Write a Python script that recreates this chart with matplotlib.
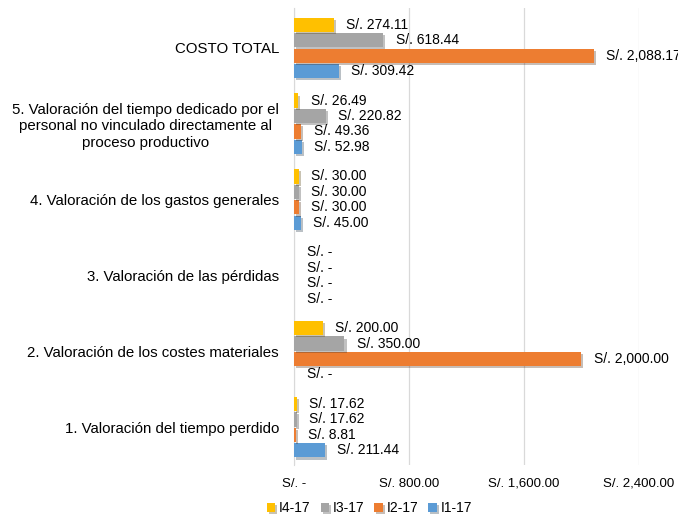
import matplotlib
matplotlib.use("Agg")
import matplotlib.pyplot as plt
import matplotlib.patheffects as pe
import numpy as np

plt.rcParams['font.family'] = ['Liberation Sans', 'DejaVu Sans']

categories = [
    "1. Valoración del tiempo perdido",
    "2. Valoración de los costes materiales",
    "3. Valoración de las pérdidas",
    "4. Valoración de los gastos generales",
    "5. Valoración del tiempo dedicado por el\npersonal no vinculado directamente al\nproceso productivo",
    "COSTO TOTAL",
]
series_names = ["I1-17", "I2-17", "I3-17", "I4-17"]
I1_17 = [211.44, 0, 0, 45.00, 52.98, 309.42]
I2_17 = [8.81, 2000.00, 0, 30.00, 49.36, 2088.17]
I3_17 = [17.62, 350.00, 0, 30.00, 220.82, 618.44]
I4_17 = [17.62, 200.00, 0, 30.00, 26.49, 274.11]
series = [I1_17, I2_17, I3_17, I4_17]
colors = ["#5B9BD5", "#ED7D31", "#A5A5A5", "#FFC000"]
xticks = [0, 800, 1600, 2400]
xtick_labels = ["S/. -", "S/. 800.00", "S/. 1,600.00", "S/. 2,400.00"]

def fmt(v):
    return "S/. -" if v == 0 else f"S/. {v:,.2f}"

fig = plt.figure(figsize=(6.78, 5.15), dpi=100)
ax = fig.add_axes([0.434, 0.097, 0.508, 0.888])

y = np.arange(len(categories))
h = 0.204
offsets = [-1.5 * h, -0.5 * h, 0.5 * h, 1.5 * h]
for vals, off, c, name in zip(series, offsets, colors, series_names):
    bars = ax.barh(y + off, vals, height=h * 0.92, color=c, label=name, zorder=3,
                   path_effects=[pe.SimplePatchShadow(offset=(1.5, -1.5), alpha=0.3), pe.Normal()])
    for b, v in zip(bars, vals):
        ax.annotate(fmt(v), xy=(v, b.get_y() + b.get_height() / 2), xytext=(9, 0),
                    textcoords='offset points', va='center', ha='left',
                    fontsize=10, color='#000000', annotation_clip=False, zorder=4)

ax.set_xlim(0, 2400)
ax.set_ylim(-0.50, 5.53)
ax.set_yticks(y)
ax.set_yticklabels(categories, fontsize=10.8)
for lbl in ax.get_yticklabels():
    lbl.set_multialignment('center')
ax.set_xticks(xticks)
ax.set_xticklabels(xtick_labels, fontsize=9.5)
ax.tick_params(axis='x', length=0, pad=9)
ax.tick_params(axis='y', length=0, pad=11)
ax.grid(axis='x', color='#D9D9D9', linewidth=0.9, zorder=0)
for s in ['top', 'right', 'bottom']:
    ax.spines[s].set_visible(False)
ax.spines['left'].set_color('#D9D9D9')

handles, labels = ax.get_legend_handles_labels()
fig.legend(handles[::-1], labels[::-1], loc='lower center', ncol=4, bbox_to_anchor=(0.545, -0.025),
           frameon=False, fontsize=10, handlelength=0.6, handleheight=0.6, handletextpad=0.3,
           columnspacing=0.7)

fig.savefig("out.png", dpi=100)
